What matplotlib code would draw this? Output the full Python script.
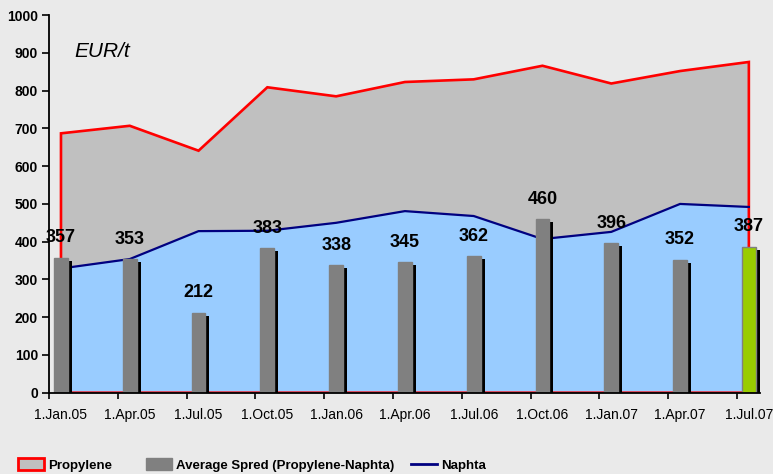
import matplotlib.pyplot as plt
import numpy as np
from matplotlib.patches import Patch
from matplotlib.lines import Line2D

# data
dates = ['1.Jan.05', '1.Apr.05', '1.Jul.05', '1.Oct.05', '1.Jan.06', '1.Apr.06',
         '1.Jul.06', '1.Oct.06', '1.Jan.07', '1.Apr.07', '1.Jul.07']
propylene = [687, 707, 641, 809, 785, 823, 830, 866, 819, 852, 876]
naphta = [329, 354, 428, 429, 450, 481, 468, 407, 426, 500, 492]
spread = [357, 353, 212, 383, 338, 345, 362, 460, 396, 352, 387]

bg = '#EAEAEA'
plt.rcParams['font.family'] = ['Liberation Sans', 'DejaVu Sans']

fig = plt.figure(figsize=(7.73, 4.74), dpi=100, facecolor=bg)
ax = fig.add_axes([0.0634, 0.1715, 0.9196, 0.7965])
ax.set_facecolor(bg)

x = np.arange(len(dates))

# propylene area (grey) and naphta area (light blue)
ax.fill_between(x, 0, propylene, color='#C0C0C0', lw=0, zorder=1)
ax.fill_between(x, 0, naphta, color='#99CCFF', lw=0, zorder=2)
# red outline of the propylene area
ox = np.concatenate([[x[0]], x, [x[-1], x[0]]])
oy = np.concatenate([[0], propylene, [0, 0]])
ax.plot(ox, oy, color='#FF0000', lw=1.9, zorder=3, solid_joinstyle='miter')
ax.plot(x, naphta, color='#000080', lw=1.6, zorder=4)

# spread bars with a black shadow
w = 0.2
ax.bar(x + 0.058, np.array(spread) - 8, width=w, color='black', zorder=5)
colors = ['#808080'] * (len(x) - 1) + ['#99CC00']
edges = ['#808080'] * len(x)
ax.bar(x, spread, width=w, color=colors, edgecolor=edges, lw=1, zorder=6)

for xi, v in zip(x, spread):
    ax.annotate(str(v), (xi, v), xytext=(0, 20), textcoords='offset pixels',
                ha='center', va='center', fontsize=13, fontweight='bold', zorder=7)

ax.text(0.19, 905, 'EUR/t', fontsize=15, fontstyle='italic', va='center')

ax.set_xlim(-0.174, 10.16)
ax.set_ylim(0, 1000)
ax.set_yticks(np.arange(0, 1001, 100))
ax.set_xticks(x)
ax.set_xticklabels(dates, fontsize=10)
ax.set_xticks(x - 0.174, minor=True)
ax.tick_params(axis='x', which='major', length=0, pad=11)
ax.tick_params(axis='x', which='minor', length=4, width=1.2, direction='out')
ax.tick_params(axis='y', length=5, width=1.2, direction='out', pad=3)
for lbl in ax.get_yticklabels():
    lbl.set_fontweight('bold')
    lbl.set_fontsize(10)
for s in ['top', 'right']:
    ax.spines[s].set_visible(False)
for s in ['left', 'bottom']:
    ax.spines[s].set_linewidth(1.3)
    ax.spines[s].set_zorder(8)

# legend, one entry at a time to keep the spacing of the original
handles = [Patch(facecolor='#C0C0C0', edgecolor='#FF0000', lw=2),
           Patch(facecolor='#808080', edgecolor='#808080'),
           Line2D([], [], color='#000080', lw=2)]
names = ['Propylene', 'Average Spred (Propylene-Naphta)', 'Naphta']
lefts = [18, 146, 411]
for h, n, lx in zip(handles, names, lefts):
    fig.legend(handles=[h], labels=[n], loc='center left',
               bbox_to_anchor=(lx / 773, 1 - 465 / 474), frameon=False,
               borderpad=0, borderaxespad=0, handlelength=1.95, handleheight=0.95,
               handletextpad=0.3,
               prop={'weight': 'bold', 'size': 9.5})

fig.savefig('out.png', dpi=100, facecolor=bg)
